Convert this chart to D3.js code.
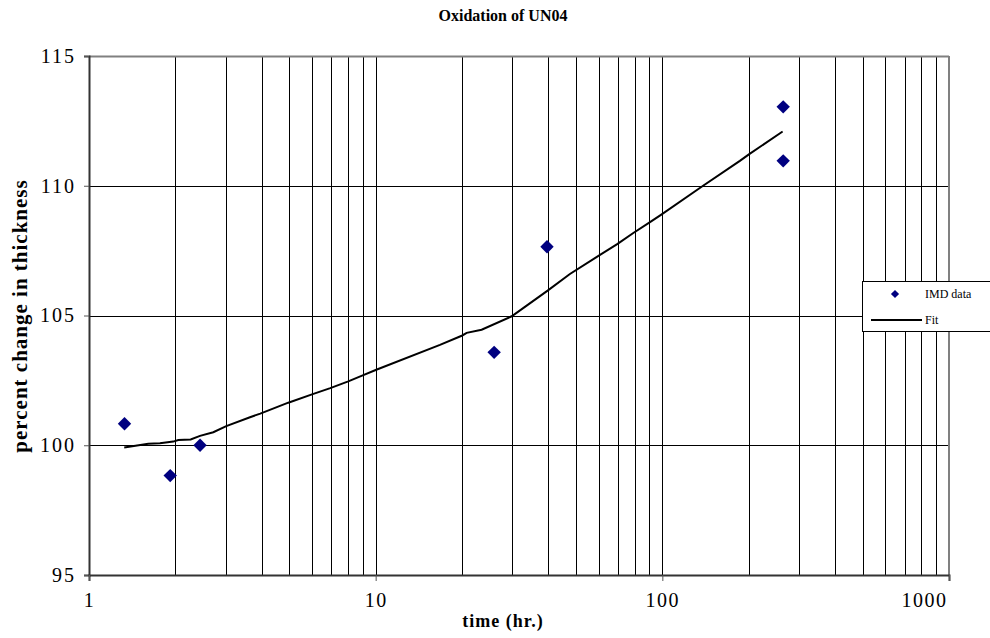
<!DOCTYPE html>
<html>
<head>
<meta charset="utf-8">
<script src="https://cdn.jsdelivr.net/npm/d3@7"></script>
<style>
  html, body { margin: 0; padding: 0; background: #fff; }
  svg { display: block; }
  text { font-family: "Liberation Serif", "Times New Roman", serif; fill: #000; }
</style>
</head>
<body>
<svg id="chart" width="990" height="638"></svg>
<script>
// Measured oxidation data (time in hours, percent change in thickness)
const dataTime = [1.33, 1.92, 2.44, 25.9, 39.6, 264, 264];
const dataPct  = [100.83, 98.83, 100.0, 103.58, 107.65, 113.04, 110.96];

// Fitted curve
const fitTime = [1.327, 1.61, 1.768, 1.968, 2.049, 2.263, 2.439, 2.714, 3.012, 3.644, 3.958, 4.957,
                 6.03, 6.944, 8.024, 9.01, 10.05, 16.76, 20.05, 20.77, 23.42, 29.82, 33.63, 39.8,
                 47.6, 59.3, 69.8, 79.2, 90.3, 98.9, 137.1, 186.4, 201, 262.8];
const fitPct  = [99.91, 100.06, 100.08, 100.14, 100.2, 100.22, 100.36, 100.5, 100.74, 101.08, 101.22, 101.64,
                 101.97, 102.2, 102.46, 102.69, 102.91, 103.87, 104.23, 104.33, 104.45, 104.97, 105.38, 105.96,
                 106.6, 107.27, 107.76, 108.18, 108.59, 108.88, 109.96, 110.96, 111.22, 112.09];

const xTickValues = [1, 10, 100, 1000];
const yTickValues = [95, 100, 105, 110, 115];
const legendLabels = ["IMD data", "Fit"];

const plot = { left: 89, right: 949, top: 56, bottom: 575 };

const svg = d3.select("#chart");

const x = d3.scaleLog().domain([1, 1000]).range([plot.left, plot.right]);
const y = d3.scaleLinear().domain([95, 115]).range([plot.bottom, plot.top]);

// Log-spaced vertical gridlines (2..9 within each decade plus the decade lines)
const xGrid = [];
for (let d = 1; d < 1000; d *= 10) {
  for (let m = 1; m <= 9; m++) {
    const v = d * m;
    if (v > 1) xGrid.push(v);
  }
}
svg.append("g")
  .selectAll("line")
  .data(xGrid)
  .join("line")
  .attr("x1", d => Math.round(x(d)) + 0.5)
  .attr("x2", d => Math.round(x(d)) + 0.5)
  .attr("y1", plot.top)
  .attr("y2", plot.bottom)
  .attr("stroke", "#000")
  .attr("stroke-width", 1);

// Horizontal gridlines
svg.append("g")
  .selectAll("line")
  .data(yTickValues.filter(v => v > 95 && v < 115))
  .join("line")
  .attr("x1", plot.left)
  .attr("x2", plot.right)
  .attr("y1", d => Math.round(y(d)) + 0.5)
  .attr("y2", d => Math.round(y(d)) + 0.5)
  .attr("stroke", "#000")
  .attr("stroke-width", 1);

// Frame: grey top/right border
svg.append("line")
  .attr("x1", plot.left).attr("x2", plot.right)
  .attr("y1", plot.top + 0.5).attr("y2", plot.top + 0.5)
  .attr("stroke", "#808080").attr("stroke-width", 2);
svg.append("line")
  .attr("x1", plot.right).attr("x2", plot.right)
  .attr("y1", plot.top).attr("y2", plot.bottom)
  .attr("stroke", "#808080").attr("stroke-width", 2);

const tickFont = "'Liberation Serif', 'Times New Roman', serif";

// Axes
const yAxis = d3.axisLeft(y).tickValues(yTickValues).tickSize(5).tickPadding(8)
  .tickFormat(d3.format("d"));
const gy = svg.append("g")
  .attr("transform", `translate(${plot.left},0)`)
  .call(yAxis);
gy.select(".domain").attr("stroke", "#333").attr("stroke-width", 2);
gy.selectAll(".tick line").attr("stroke", "#555");
gy.selectAll(".tick text")
  .style("font-family", tickFont)
  .style("font-size", "20px")
  .style("letter-spacing", "2px");

const xAxis = d3.axisBottom(x).tickValues(xTickValues).tickSize(6).tickPadding(12)
  .tickFormat(d3.format("d"));
const gx = svg.append("g")
  .attr("transform", `translate(0,${plot.bottom})`)
  .call(xAxis);
gx.select(".domain").attr("stroke", "#333").attr("stroke-width", 2);
gx.selectAll(".tick line").attr("stroke", "#555");
gx.selectAll(".tick text")
  .style("font-family", tickFont)
  .style("font-size", "20px")
  .style("letter-spacing", "1.5px");
// keep the last label inside the frame
gx.selectAll(".tick text")
  .filter(d => d === 1000)
  .attr("text-anchor", "end")
  .attr("x", -2);

// Fit curve
const line = d3.line()
  .x((d, i) => x(fitTime[i]))
  .y((d, i) => y(fitPct[i]));
svg.append("path")
  .datum(fitPct)
  .attr("d", line)
  .attr("fill", "none")
  .attr("stroke", "#000")
  .attr("stroke-width", 2);

// Data points as navy diamonds
const diamond = d3.symbol().type(d3.symbolSquare).size(90);
svg.append("g")
  .selectAll("path")
  .data(dataPct)
  .join("path")
  .attr("d", diamond)
  .attr("transform", (d, i) => `translate(${x(dataTime[i])},${y(d)}) rotate(45)`)
  .attr("fill", "#000080");

// Title and axis titles
svg.append("text")
  .attr("x", 503).attr("y", 21)
  .attr("text-anchor", "middle")
  .style("font-size", "16px").style("font-weight", "bold")
  .text("Oxidation of UN04");

svg.append("text")
  .attr("x", 503).attr("y", 627)
  .attr("text-anchor", "middle")
  .style("font-size", "18px").style("font-weight", "bold")
  .style("letter-spacing", "1px")
  .text("time (hr.)");

svg.append("text")
  .attr("transform", "translate(27,316) rotate(-90)")
  .attr("text-anchor", "middle")
  .style("font-size", "21px").style("font-weight", "bold")
  .style("letter-spacing", "1px")
  .text("percent change in thickness");

// Legend
const lg = svg.append("g");
lg.append("rect")
  .attr("x", 862.5).attr("y", 281.5)
  .attr("width", 140).attr("height", 50)
  .attr("fill", "#fff").attr("stroke", "#000").attr("stroke-width", 1);
lg.append("path")
  .attr("d", d3.symbol().type(d3.symbolSquare).size(34))
  .attr("transform", "translate(895,294) rotate(45)")
  .attr("fill", "#000080");
lg.append("line")
  .attr("x1", 871).attr("x2", 922).attr("y1", 320).attr("y2", 320)
  .attr("stroke", "#000").attr("stroke-width", 2);
lg.selectAll("text.lbl")
  .data(legendLabels)
  .join("text")
  .attr("class", "lbl")
  .attr("x", 925)
  .attr("y", (d, i) => 298 + i * 26)
  .style("font-size", "12px")
  .text(d => d);
</script>
</body>
</html>
